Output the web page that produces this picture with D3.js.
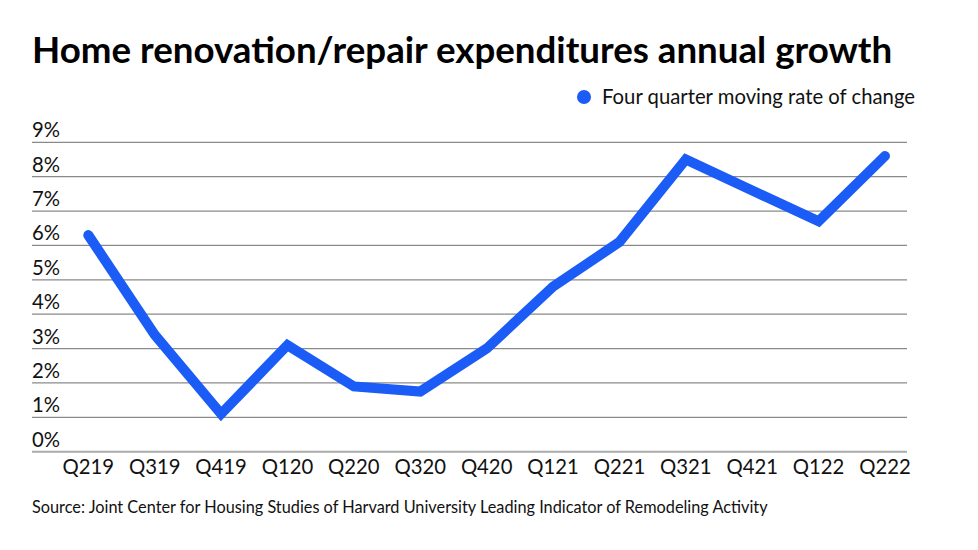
<!DOCTYPE html>
<html><head><meta charset="utf-8">
<script src="https://cdn.jsdelivr.net/npm/d3@7"></script>
<style>body{margin:0;background:#fff}svg{display:block}text{font-family:Lato,"Open Sans",sans-serif}</style>
</head><body>
<svg id="c" width="978" height="550"></svg>
<script>
const categories = ["Q219","Q319","Q419","Q120","Q220","Q320","Q420","Q121","Q221","Q321","Q421","Q122","Q222"];
const values = [6.3, 3.4, 1.1, 3.1, 1.9, 1.75, 3.0, 4.8, 6.1, 8.5, 7.6, 6.7, 8.6];
const yTicks = [0,1,2,3,4,5,6,7,8,9];
const seriesName = "Four quarter moving rate of change";
const title = "Home renovation/repair expenditures annual growth";
const source = "Source: Joint Center for Housing Studies of Harvard University Leading Indicator of Remodeling Activity";

(function(){
const svg = d3.select("#c");
const plotLeft = 32, plotRight = 907, plotTop = 142.3, plotBottom = 451.7;
const x = d3.scalePoint().domain(categories).range([88.3, 885]);
const y = d3.scaleLinear().domain([0, 9]).range([plotBottom, plotTop]);

svg.append("text").attr("x", 32).attr("y", 63).attr("font-size", 36.7).attr("font-weight", 700).attr("fill", "#000").text(title);

svg.append("circle").attr("cx", 584).attr("cy", 97).attr("r", 7).attr("fill", "#1a5cf5");
svg.append("text").attr("x", 602).attr("y", 104).attr("font-size", 20.3).attr("fill", "#111").text(seriesName);

const g = svg.append("g");
g.selectAll("line.grid").data(yTicks).join("line").attr("class","grid")
  .attr("x1", plotLeft).attr("x2", plotRight).attr("y1", d => y(d)).attr("y2", d => y(d))
  .attr("stroke", d => d===0 ? "#aaa" : "#8a8a8a").attr("stroke-width", d => d===0 ? 2 : 1.3);
g.selectAll("text.yl").data(yTicks).join("text").attr("class","yl")
  .attr("x", plotLeft).attr("y", d => y(d) - 5).attr("font-size", 20.3).attr("fill", "#111").text(d => d + "%");

g.selectAll("text.xl").data(categories).join("text").attr("class","xl")
  .attr("x", d => x(d)).attr("y", 474).attr("text-anchor","middle").attr("font-size", 20.3).attr("fill", "#111").text(d => d);

const line = d3.line().x((d,i) => x(categories[i])).y(d => y(d));
svg.append("path").datum(values).attr("d", line).attr("fill","none")
  .attr("stroke", "#1a5cf5").attr("stroke-width", 10).attr("stroke-linejoin","miter").attr("stroke-linecap","round");

svg.append("text").attr("x", 32).attr("y", 513).attr("font-size", 16.3).attr("fill", "#111").text(source);
})();
</script>
</body></html>
